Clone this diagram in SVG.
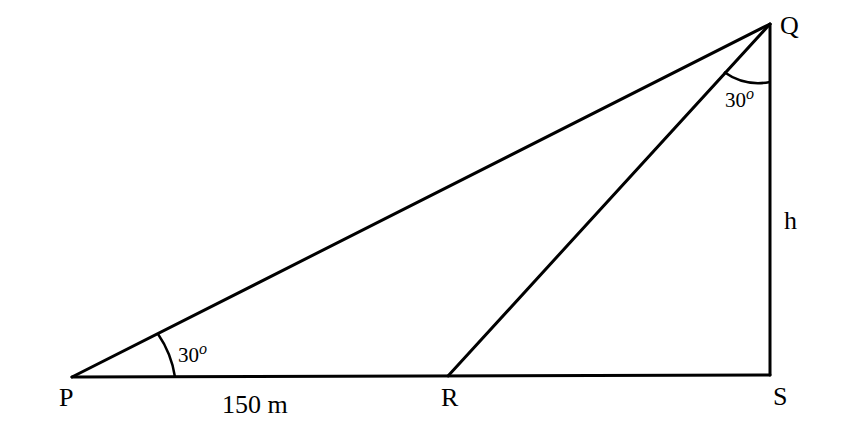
<svg xmlns="http://www.w3.org/2000/svg" width="864" height="432" viewBox="0 0 864 432">
<style>
.ln{stroke:#000;stroke-width:3;fill:none;stroke-linecap:round;stroke-linejoin:round}
.arc{stroke:#000;stroke-width:2.5;fill:none}
.lbl{font-family:"Liberation Serif","DejaVu Serif",serif;font-size:26px;fill:#000}
.ang{font-family:"Liberation Serif","DejaVu Serif",serif;font-size:21px;fill:#000}
</style>
<rect width="864" height="432" fill="#fff"/>
<g id="connectors">
<path class="ln" d="M72 377 L770 24"/>
<path class="ln" d="M72 377 L770 375"/>
<path class="ln" d="M770 24 L770 375"/>
<path class="ln" d="M448 376 L770 24"/>
<path class="arc" d="M175 377 A103 103 0 0 0 158 334"/>
<path class="arc" d="M724 72 A60 60 0 0 0 770 82"/>
</g>
<g id="P"><text class="lbl" x="59" y="406">P</text></g>
<g id="Q"><text class="lbl" x="780" y="34">Q</text></g>
<g id="R"><text class="lbl" x="441" y="406">R</text></g>
<g id="S"><text class="lbl" x="773" y="405">S</text></g>
<g id="label-h"><text class="lbl" x="784" y="229">h</text></g>
<g id="label-150"><text class="lbl" x="222" y="413">150 m</text></g>
<g id="angle-P"><text class="ang" x="178" y="362">30<tspan font-style="italic" font-size="16" dy="-8">o</tspan></text></g>
<g id="angle-Q"><text class="ang" x="725" y="107">30<tspan font-style="italic" font-size="16" dy="-8">o</tspan></text></g>
</svg>
